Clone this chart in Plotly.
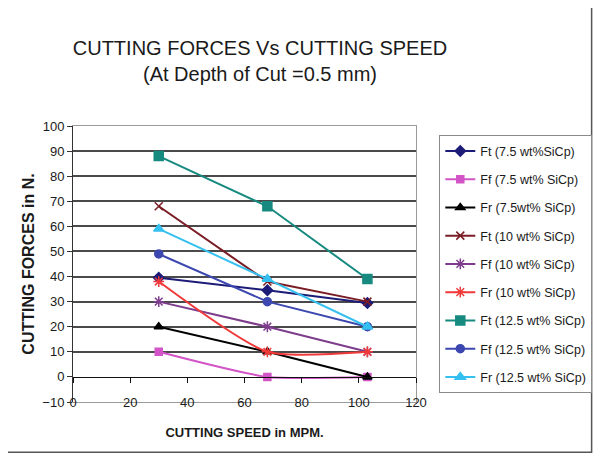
import plotly.graph_objects as go

# cutting speed (MPM) and cutting forces (N)
speed = [30, 68, 103]

ft_75 = [39.5, 34.5, 29.5]
ff_75 = [10, 0, 0]
fr_75 = [20, 10, 0]
ft_10 = [68, 38, 30]
ff_10 = [30, 20, 10]
fr_10 = [38, 10, 10]
ft_125 = [88, 68, 39]
ff_125 = [49, 30, 20]
fr_125 = [59, 39, 20]

names = ["Ft (7.5 wt%SiCp)", "Ff (7.5 wt% SiCp)", "Fr (7.5wt% SiCp)",
         "Ft (10 wt% SiCp)", "Ff (10 wt% SiCp)", "Fr (10 wt% SiCp)",
         "Ft (12.5 wt% SiCp)", "Ff (12.5 wt% SiCp)", "Fr (12.5 wt% SiCp)"]
series = [ft_75, ff_75, fr_75, ft_10, ff_10, fr_10, ft_125, ff_125, fr_125]

x_ticks = [0, 20, 40, 60, 80, 100, 120]
y_ticks = [-10, 0, 10, 20, 30, 40, 50, 60, 70, 80, 90, 100]
grid_ticks = [10, 20, 30, 40, 50, 60, 70, 80, 90]

FONT = "Liberation Sans, Arial, sans-serif"

styles = [
    dict(color="#1c1c78", symbol="diamond", size=8, shape="linear"),
    dict(color="#d254c6", symbol="square", size=7, shape="spline"),
    dict(color="#000000", symbol="triangle-up", size=8, shape="linear"),
    dict(color="#7a1c24", symbol="x-thin-open", size=8, shape="linear"),
    dict(color="#7d3c8c", symbol="asterisk-open", size=9, shape="linear"),
    dict(color="#f03a3a", symbol="asterisk-open", size=9, shape="spline"),
    dict(color="#178a80", symbol="square", size=9, shape="linear"),
    dict(color="#3c48b0", symbol="circle", size=8, shape="linear"),
    dict(color="#35c0f0", symbol="triangle-up", size=9, shape="linear"),
]

fig = go.Figure()

# helper axes: grid lines and the x axis drawn at y = 0
fig.add_trace(go.Scatter(x=[], y=[], xaxis="x2", yaxis="y2", showlegend=False, hoverinfo="skip"))

for i, (nm, ys, st) in enumerate(zip(names, series, styles)):
    fig.add_trace(go.Scatter(
        x=speed, y=ys, name=nm, mode="lines+markers", legendgroup=f"g{i}",
        line=dict(color=st["color"], width=2, shape=st["shape"], smoothing=0.6),
        marker=dict(symbol=st["symbol"], size=st["size"], color=st["color"],
                    line=dict(color=st["color"], width=1.5)),
    ))

# page body has an 8px margin, so the figure is 8px smaller than the window
W, H = 596, 448
px_l, px_r, px_t, px_b = 65.3, 414.3, 117.7, 394.5
pw, ph = px_r - px_l, px_b - px_t

fig.update_layout(
    width=W, height=H,
    margin=dict(l=px_l, r=W - px_r, t=px_t, b=H - px_b),
    paper_bgcolor="white", plot_bgcolor="white",
    font=dict(family=FONT, size=13, color="#1a1a1a"),
    title=dict(text="CUTTING FORCES Vs CUTTING SPEED<br>(At Depth of Cut =0.5 mm)",
               x=252 / W, xanchor="center", y=1 - 47 / H, yanchor="middle",
               font=dict(family=FONT, size=20, color="#1a1a1a")),
    xaxis=dict(range=[0, 120], tickvals=x_ticks, showgrid=False, zeroline=False,
               showline=True, linecolor="#9a9a9a", linewidth=1, mirror=True,
               ticks="", ticklabelstandoff=-12, tickfont=dict(size=13),
               title=dict(text="<b>CUTTING SPEED in MPM.</b>", font=dict(size=13), standoff=19)),
    yaxis=dict(range=[-10, 100], tickvals=y_ticks, showgrid=False, zeroline=False,
               showline=True, linecolor="#333333", linewidth=1,
               ticks="outside", ticklen=5, tickcolor="#333333", tickfont=dict(size=13),
               title=dict(text="<b>CUTTING FORCES in N.</b>", font=dict(size=16), standoff=3)),
    xaxis2=dict(range=[0, 120], overlaying="x", anchor="free", position=10 / 110,
                tickvals=x_ticks, showticklabels=False, showgrid=False, zeroline=False,
                showline=True, linecolor="#111111", linewidth=1.2,
                ticks="outside", ticklen=5, tickcolor="#111111"),
    yaxis2=dict(range=[-10, 100], overlaying="y", side="right", tickvals=grid_ticks,
                showticklabels=False, showgrid=True, gridcolor="#4a4a4a", gridwidth=2,
                zeroline=False, showline=True, linecolor="#9a9a9a", linewidth=1, ticks=""),
    legend=dict(x=(438 - px_l) / pw, xanchor="left", y=(px_b - 127) / ph, yanchor="top",
                bordercolor="#8a8a8a", borderwidth=1, bgcolor="white",
                font=dict(size=12.5), tracegroupgap=9, itemwidth=30),
    shapes=[dict(type="rect", xref="paper", yref="paper",
                 x0=(-20 - px_l) / pw, x1=(593 - px_l) / pw,
                 y0=(px_b - 445) / ph, y1=(px_b + 20) / ph,
                 line=dict(color="#555555", width=1.5), layer="below")],
)

fig.write_html("out.html")
